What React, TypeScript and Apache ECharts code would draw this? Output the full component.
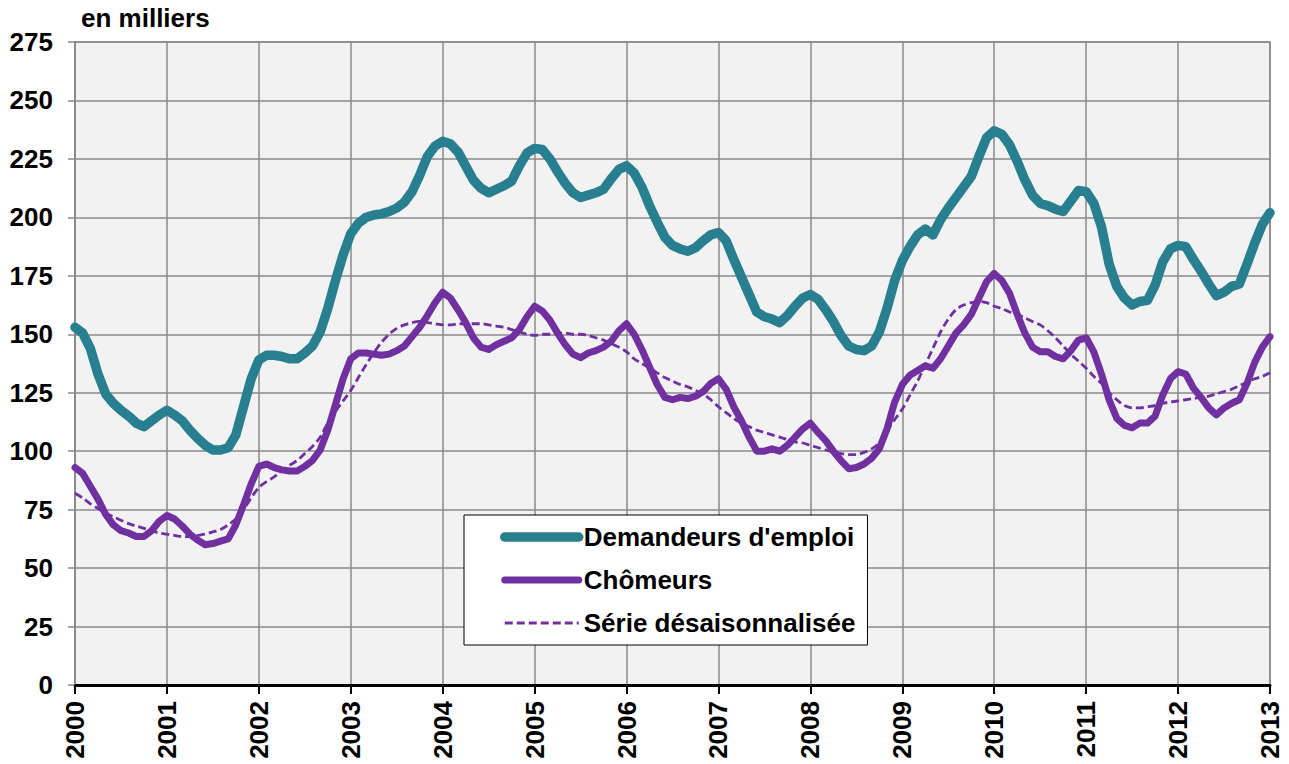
import React, { useEffect, useRef } from "react";
import * as echarts from "echarts";

const years = ["2000", "2001", "2002", "2003", "2004", "2005", "2006", "2007", "2008", "2009", "2010", "2011", "2012", "2013"];

// Monthly values, Jan 2000 .. Jan 2013 (en milliers)
const demandeurs = [
  153, 150.5, 144, 133, 124.5, 120.5, 117.5, 115, 112, 110.5, 113, 115.5,
  117.5, 115.5, 113, 109, 105.5, 102.5, 100.5, 100.5, 101.5, 107, 119, 131,
  139, 141, 141, 140.5, 139.5, 139.5, 142, 145, 151, 161, 173, 184,
  193, 197.5, 200, 201, 201.5, 202.5, 204, 206.5, 211, 218, 226, 230.5,
  232.5, 231.5, 228, 222, 216, 212.5, 210.5, 212, 213.5, 215.5, 222, 227.5,
  229.5, 229, 225, 219.5, 214.5, 210.5, 208.5, 209.5, 210.5, 212, 216.5, 220.5,
  222, 219, 213, 205, 198, 191.5, 188, 186.5, 185.5, 187, 190, 192.5,
  193.5, 190, 182, 174.5, 167, 159.5, 157.5, 156.5, 155, 158, 162, 165.5,
  167, 165, 160.5, 155.5, 149.5, 145, 143.5, 143, 145, 151, 161, 173,
  181.5, 187.5, 192.5, 195, 192.5, 199, 204, 208.5, 213, 217.5, 226, 234,
  237, 235.5, 231, 224, 216, 209.5, 206, 205, 203.5, 202.5, 207, 211.5,
  211, 206, 196, 180, 170.5, 165.5, 162.5, 164, 164.5, 171, 181, 186.5,
  188, 187.5, 182, 177, 171.5, 166.5, 168, 170.5, 171.5, 180, 189, 197,
  202,
];

const chomeurs = [
  93, 90.5, 85, 79.5, 73, 68.5, 66, 65, 63.5, 63.5, 66, 70,
  72.5, 71, 68, 64.5, 62, 60, 60.5, 61.5, 62.5, 68.5, 77, 86,
  93.5, 94.5, 93, 92, 91.5, 91.5, 93.5, 96, 100.5, 109, 120, 131,
  139.5, 142, 142, 141.5, 141, 141.5, 143, 145, 149, 153, 158, 163.5,
  168, 165.5, 160.5, 155, 148.5, 144.5, 143.5, 145.5, 147, 148.5, 152, 157.5,
  162, 160, 156, 150.5, 145.5, 141.5, 140, 142, 143, 144.5, 147, 151.5,
  154.5, 150, 143.5, 136, 128.5, 123, 122, 123, 122.5, 123.5, 125.5, 129,
  131, 126.5, 119, 113, 106, 100, 100, 101, 100, 102.5, 106, 109.5,
  112, 108, 104.5, 100, 96, 92.5, 93, 94.5, 97, 101, 109.5, 121,
  128.5, 132.5, 134.5, 136.5, 135.5, 139.5, 145, 150.5, 154, 158.5, 165.5, 172.5,
  176, 173, 167.5, 158.5, 150.5, 144.5, 142.5, 142.5, 140.5, 139.5, 143, 147.5,
  148.5, 142.5, 133, 122, 114, 111, 110, 112, 112, 115, 124, 131,
  134, 133, 127, 123, 118.5, 115.5, 118.5, 120.5, 122, 129, 138, 144.5,
  149,
];

const desaisonnalisee = [
  82, 80, 77.5, 75.5, 73.5, 72, 70.5, 69, 68, 67, 66, 65,
  64.5, 64, 63.5, 63.5, 64, 64.5, 65.5, 66.5, 68.5, 71, 75, 80,
  84.5, 87, 89, 91.5, 94, 96, 99, 102, 106, 112, 117, 121.5,
  126, 131.5, 137, 142, 146.5, 150, 152.5, 154, 155, 155.5, 155, 154.5,
  154, 154, 154.5, 154.5, 154.5, 154.5, 154, 153.5, 153, 152, 151, 150,
  149.5, 150, 150, 150.5, 150.5, 150, 150, 149.5, 148.5, 147.5, 146, 144.5,
  142.5, 139.5, 137.5, 135.5, 133.5, 131.5, 130, 128.5, 127.5, 126, 124.5, 122,
  119, 116.5, 114, 112, 110.5, 109, 108, 107, 106, 105, 104, 103.5,
  102.5, 101.5, 100.5, 99.5, 99, 98.5, 98.5, 99.5, 101, 103.5, 108.5, 113.5,
  118, 124, 130, 137, 144, 151, 156.5, 160.5, 162.5, 163.5, 164, 163.5,
  162, 161, 159.5, 158.5, 157, 155.5, 154, 151.5, 148.5, 145, 141.5, 138.5,
  135.5, 132, 129, 125, 122, 119.5, 118.5, 118.5, 119, 119.5, 120.5, 121,
  121.5, 122, 122.5, 123, 123.5, 124.5, 125.5, 126.5, 128, 129.5, 131, 132,
  133.5,
];

const seriesNames = ["Demandeurs d'emploi", "Chômeurs", "Série désaisonnalisée"];

export default function App() {
  const ref = useRef<HTMLDivElement>(null);

  useEffect(() => {
    document.body.style.margin = "0";
    const chart = echarts.init(ref.current!, null, { renderer: "svg" });
    const toPairs = (arr: number[]) => arr.map((v, i) => [i, v]);
    const font = "'Liberation Sans', Arial, Helvetica, sans-serif";
    const labelStyle = { fontFamily: font, fontWeight: "bold", fontSize: 26, color: "#000" };
    const gridLine = { color: "#8a8a8a", width: 1.5 };

    chart.setOption({
      animation: false,
      backgroundColor: "#ffffff",
      title: {
        text: "en milliers",
        left: 81,
        top: 5,
        padding: 0,
        textStyle: labelStyle,
      },
      grid: {
        left: 75,
        right: 19,
        top: 42,
        bottom: 79,
        show: true,
        backgroundColor: "#f2f2f2",
        borderColor: "#8a8a8a",
        borderWidth: 1.5,
      },
      xAxis: {
        type: "value",
        min: 0,
        max: 156,
        interval: 12,
        axisLine: { show: true, lineStyle: { color: "#000", width: 3 } },
        axisTick: { show: true, length: 9, lineStyle: { color: "#000", width: 2 } },
        splitLine: { show: true, lineStyle: gridLine },
        axisLabel: {
          rotate: 90,
          margin: 16,
          formatter: (v: number) => years[Math.round(v / 12)] ?? "",
          ...labelStyle,
        },
      },
      yAxis: {
        type: "value",
        min: 0,
        max: 275,
        interval: 25,
        axisLine: { show: true, lineStyle: gridLine },
        axisTick: { show: true, length: 7, lineStyle: gridLine },
        splitLine: { show: true, lineStyle: gridLine },
        axisLabel: { margin: 22, ...labelStyle },
      },
      legend: {
        orient: "vertical",
        left: 464,
        top: 515,
        backgroundColor: "#ffffff",
        borderColor: "#000",
        borderWidth: 1,
        padding: [9, 12, 9, 36],
        itemWidth: 74,
        itemHeight: 14,
        itemGap: 17,
        data: seriesNames,
        textStyle: labelStyle,
        itemStyle: { opacity: 0 },
        lineStyle: { width: "inherit" },
      },
      series: [
        {
          name: seriesNames[0],
          type: "line",
          data: toPairs(demandeurs),
          symbol: "none",
          showSymbol: false,
          z: 3,
          lineStyle: { color: "#287f8f", width: 9.5, cap: "round", join: "round" },
          itemStyle: { color: "#287f8f" },
        },
        {
          name: seriesNames[1],
          type: "line",
          data: toPairs(chomeurs),
          symbol: "none",
          showSymbol: false,
          z: 4,
          lineStyle: { color: "#7030a0", width: 7, cap: "round", join: "round" },
          itemStyle: { color: "#7030a0" },
        },
        {
          name: seriesNames[2],
          type: "line",
          data: toPairs(desaisonnalisee),
          symbol: "none",
          showSymbol: false,
          smooth: 0.3,
          z: 3,
          lineStyle: { color: "#7030a0", width: 2.8, type: [8, 4] },
          itemStyle: { color: "#7030a0" },
        },
      ],
    });

    return () => chart.dispose();
  }, []);

  return <div ref={ref} style={{ width: 1289, height: 764 }} />;
}
